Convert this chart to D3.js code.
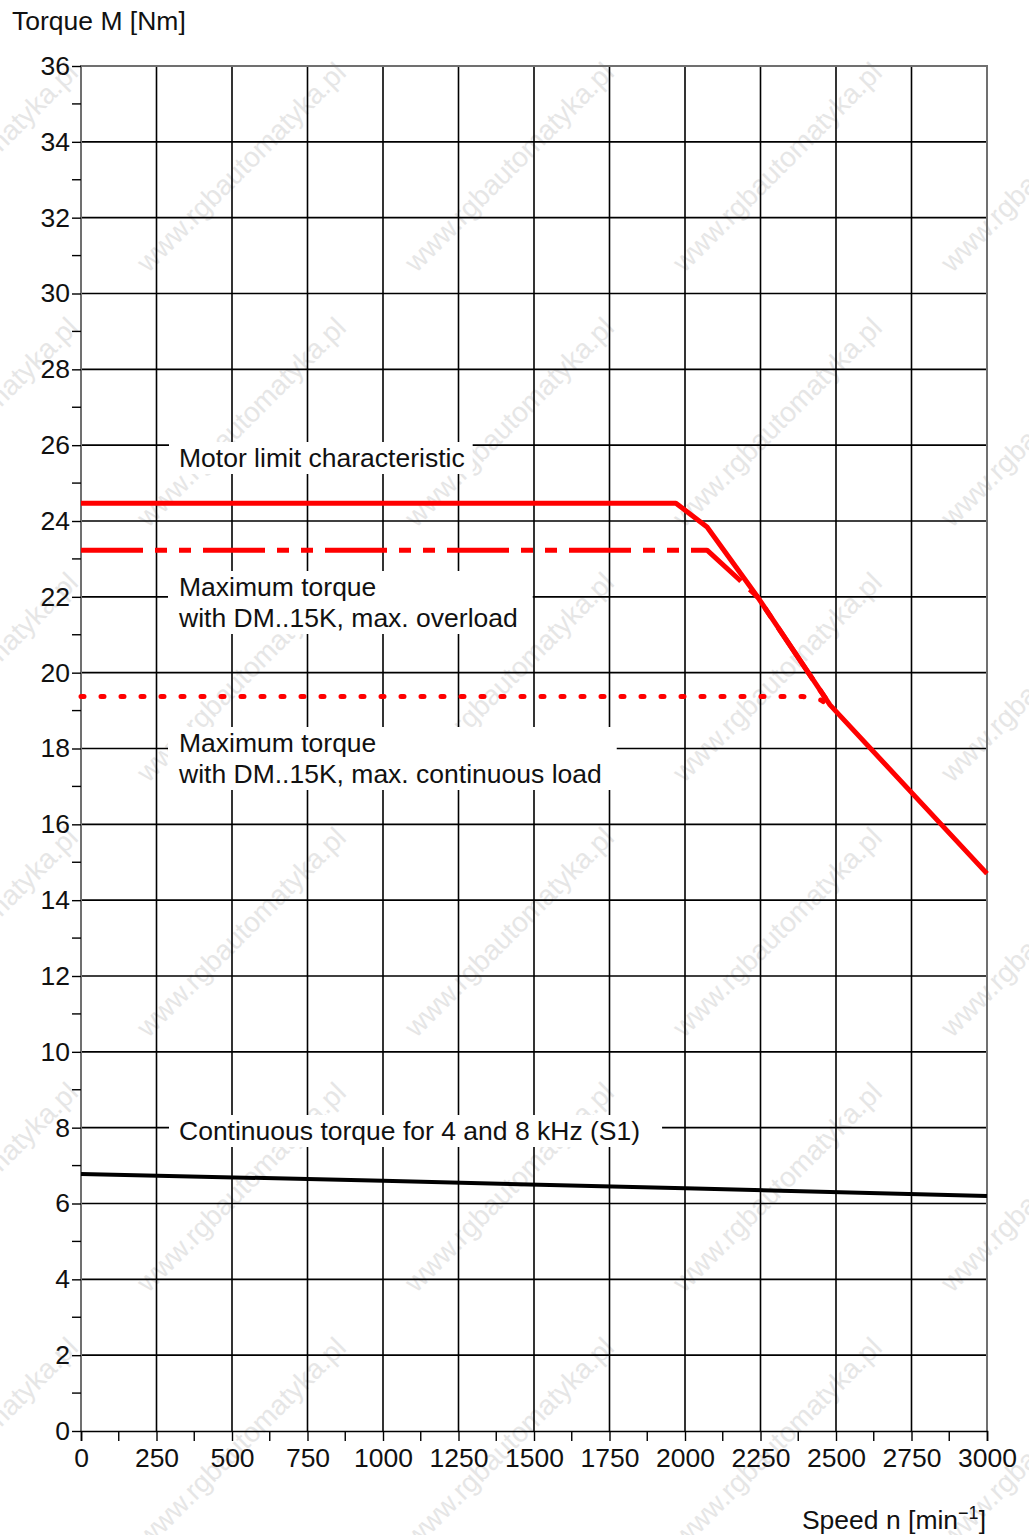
<!DOCTYPE html>
<html>
<head>
<meta charset="utf-8">
<script src="https://cdn.jsdelivr.net/npm/d3@7"></script>
<style>
  body { margin: 0; background: #fff; }
  text { font-family: "Liberation Sans", Arial, Helvetica, sans-serif; }
</style>
</head>
<body>
<div id="chart"></div>
<script>
// ---- data ----
var speedTicks = [0, 250, 500, 750, 1000, 1250, 1500, 1750, 2000, 2250, 2500, 2750, 3000];
var speedMinorTicks = [125, 375, 625, 875, 1125, 1375, 1625, 1875, 2125, 2375, 2625, 2875];
var torqueTicks = [0, 2, 4, 6, 8, 10, 12, 14, 16, 18, 20, 22, 24, 26, 28, 30, 32, 34, 36];
var torqueMinorTicks = [1, 3, 5, 7, 9, 11, 13, 15, 17, 19, 21, 23, 25, 27, 29, 31, 33, 35];

// motor limit characteristic (solid red)
var limitSpeed  = [0, 1970, 2073, 2240, 2480, 3000];
var limitTorque = [24.47, 24.47, 23.84, 22.0, 19.15, 14.7];
// max torque with DM..15K, max. overload (dash-dot red)
var overloadSpeed  = [0, 2073, 2180, 2240, 2480];
var overloadTorque = [23.23, 23.23, 22.45, 22.0, 19.15];
// max torque with DM..15K, max. continuous load (dotted red)
var contLoadSpeed  = [0, 2390, 2450, 2490];
var contLoadTorque = [19.37, 19.37, 19.28, 19.05];
// continuous torque for 4 and 8 kHz (S1) (solid black)
var s1Speed  = [0, 1000, 2000, 3000];
var s1Torque = [6.78, 6.6, 6.4, 6.2];

var fontSize = "26.5px";

var svg = d3.select("#chart")
            .append("svg")
            .attr("width", 1029)
            .attr("height", 1535);

var xScale = d3.scaleLinear().domain([0, 3000]).range([81, 987]),
    yScale = d3.scaleLinear().domain([0, 36]).range([1431, 66]);

// watermark
var wm = svg.append("g").attr("class", "watermark");
for (var r = 0; r < 6; r++) {
	for (var c = 0; c < 5; c++) {
		var cx = -27 + c * 268, cy = 167 + r * 255;
		wm.append("text")
			.attr("transform", "translate(" + cx + "," + cy + ") rotate(-45)")
			.attr("text-anchor", "middle")
			.attr("dy", ".35em")
			.attr("font-size", "28px")
			.style("fill", "#e6e6e6")
			.text("www.rgbautomatyka.pl");
	}
}

// grid
var grid = svg.append("g").attr("class", "grid");
grid.selectAll(".vgrid")
	.data(speedTicks.slice(1, -1)).enter()
	.append("line")
	.attr("x1", function(d) { return xScale(d); })
	.attr("x2", function(d) { return xScale(d); })
	.attr("y1", yScale(0))
	.attr("y2", yScale(36))
	.attr("stroke", "#000")
	.attr("stroke-width", 1.6);
grid.selectAll(".hgrid")
	.data(torqueTicks.slice(1, -1)).enter()
	.append("line")
	.attr("x1", xScale(0))
	.attr("x2", xScale(3000))
	.attr("y1", function(d) { return yScale(d); })
	.attr("y2", function(d) { return yScale(d); })
	.attr("stroke", "#000")
	.attr("stroke-width", 1.6);

// frame: top, right, left grey
svg.append("path")
	.attr("d", "M" + xScale(0) + "," + yScale(0) + "V" + yScale(36) + "H" + xScale(3000) + "V" + yScale(0))
	.attr("fill", "none")
	.attr("stroke", "#707070")
	.attr("stroke-width", 2);

// labels with white boxes that hide the grid
var labels = [
	{x: 179, y: 467, lines: ["Motor limit characteristic"], padR: 8},
	{x: 179, y: 596, lines: ["Maximum torque", "with DM..15K, max. overload"], padR: 15},
	{x: 179, y: 752, lines: ["Maximum torque", "with DM..15K, max. continuous load"], padR: 15},
	{x: 179, y: 1140, lines: ["Continuous torque for 4 and 8 kHz (S1)"], padR: 22}
];
labels.forEach(function(l) {
	var g = svg.append("g");
	var box = g.append("rect").attr("fill", "#fff");
	var t = g.append("text")
		.attr("x", l.x)
		.attr("y", l.y)
		.attr("font-size", fontSize)
		.style("fill", "#111");
	l.lines.forEach(function(s, i) {
		t.append("tspan").attr("x", l.x).attr("dy", i === 0 ? 0 : 31).text(s);
	});
	var bb = t.node().getBBox();
	box.attr("x", bb.x - 10)
		.attr("y", bb.y - 1)
		.attr("width", bb.width + 10 + l.padR)
		.attr("height", bb.height + 2);
});

// curves
function curve(xs, ys) {
	return d3.line()
		.x(function(d, i) { return xScale(xs[i]); })
		.y(function(d, i) { return yScale(ys[i]); })(xs);
}

svg.append("path")
	.attr("d", curve(contLoadSpeed, contLoadTorque))
	.attr("fill", "none")
	.attr("stroke", "#ff0000")
	.attr("stroke-width", 5)
	.attr("stroke-linecap", "round")
	.attr("stroke-dasharray", "3,17");

svg.append("path")
	.attr("d", curve(overloadSpeed, overloadTorque))
	.attr("fill", "none")
	.attr("stroke", "#ff0000")
	.attr("stroke-width", 5)
	.attr("stroke-linejoin", "round")
	.attr("stroke-dasharray", "62,12,12,12,12,12");

svg.append("path")
	.attr("d", curve(limitSpeed, limitTorque))
	.attr("fill", "none")
	.attr("stroke", "#ff0000")
	.attr("stroke-width", 5)
	.attr("stroke-linejoin", "round");

svg.append("path")
	.attr("d", curve(s1Speed, s1Torque))
	.attr("fill", "none")
	.attr("stroke", "#000")
	.attr("stroke-width", 4);

// x axis
var xAxis = d3.axisBottom(xScale)
	.tickValues(speedTicks)
	.tickSize(10)
	.tickPadding(7)
	.tickFormat(d3.format("d"));
var gx = svg.append("g")
	.attr("transform", "translate(0," + yScale(0) + ")")
	.call(xAxis);
gx.select(".domain").attr("stroke", "#000").attr("stroke-width", 1.6);
gx.selectAll(".tick line").attr("stroke", "#000").attr("stroke-width", 1.4);
gx.selectAll(".tick text").attr("font-size", fontSize).style("fill", "#111")
	.attr("font-family", "Liberation Sans, Arial, sans-serif");
gx.selectAll(".minor")
	.data(speedMinorTicks).enter()
	.append("line")
	.attr("x1", function(d) { return xScale(d); })
	.attr("x2", function(d) { return xScale(d); })
	.attr("y1", 0)
	.attr("y2", 10)
	.attr("stroke", "#000")
	.attr("stroke-width", 1.4);

// y axis
var yAxis = d3.axisLeft(yScale)
	.tickValues(torqueTicks)
	.tickSize(9)
	.tickPadding(2)
	.tickFormat(d3.format("d"));
var gy = svg.append("g")
	.attr("transform", "translate(" + xScale(0) + ",0)")
	.call(yAxis);
gy.select(".domain").remove();
gy.selectAll(".tick line").attr("stroke", "#000").attr("stroke-width", 1.4);
gy.selectAll(".tick text").attr("font-size", fontSize).style("fill", "#111")
	.attr("font-family", "Liberation Sans, Arial, sans-serif");
gy.selectAll(".minor")
	.data(torqueMinorTicks).enter()
	.append("line")
	.attr("x1", -9)
	.attr("x2", 0)
	.attr("y1", function(d) { return yScale(d); })
	.attr("y2", function(d) { return yScale(d); })
	.attr("stroke", "#000")
	.attr("stroke-width", 1.4);

// axis titles
svg.append("text")
	.attr("x", 12)
	.attr("y", 30)
	.attr("font-size", fontSize)
	.style("fill", "#111")
	.text("Torque M [Nm]");

var xt = svg.append("text")
	.attr("x", 986)
	.attr("y", 1529)
	.attr("font-size", fontSize)
	.style("fill", "#111")
	.style("text-anchor", "end");
xt.append("tspan").text("Speed n [min");
xt.append("tspan").attr("dy", -10).attr("font-size", "18px").text("\u22121");
xt.append("tspan").attr("dy", 10).text("]");
</script>
</body>
</html>
